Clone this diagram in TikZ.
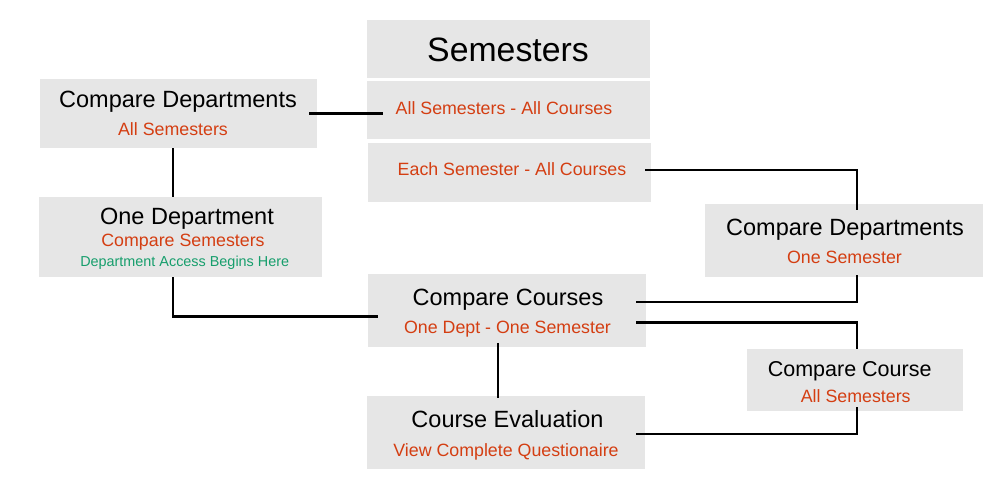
\documentclass[tikz,border=0pt]{standalone}
\usepackage{fontspec}
\setmainfont{Liberation Sans}
\usetikzlibrary{calc}
\definecolor{boxgray}{RGB}{230,230,230}
\definecolor{subred}{RGB}{212,62,18}
\definecolor{notegreen}{RGB}{22,158,108}

\begin{document}
\begin{tikzpicture}[
            x = 1pt, y = -1pt,
            box/.style={fill=boxgray, inner sep=0pt, outer sep=0pt},
            title/.style={anchor=base, inner sep=0pt, font=\fontsize{23.5}{26}\selectfont},
            sub/.style={anchor=base, inner sep=0pt, text=subred, font=\fontsize{17.8}{20}\selectfont},
            note/.style={anchor=base, inner sep=0pt, text=notegreen, font=\fontsize{14.4}{16}\selectfont},
            line/.style={line width = 2.2pt},
            ]
        \useasboundingbox (0,0) rectangle (1000,500);
        % boxes
        \node[box, minimum width=283pt, minimum height=58pt] (sem) at (508.5,49) {};
        \node[box, minimum width=283pt, minimum height=58pt] (allall) at (508.5,110) {};
        \node[box, minimum width=283pt, minimum height=59pt] (eachall) at (509.5,172.5) {};
        \node[box, minimum width=277pt, minimum height=69pt] (cdall) at (178.5,113.5) {};
        \node[box, minimum width=283pt, minimum height=80pt] (onedept) at (180.5,237) {};
        \node[box, minimum width=278pt, minimum height=73pt] (cdone) at (844,240.5) {};
        \node[box, minimum width=278pt, minimum height=72.5pt] (courses) at (507,310.5) {};
        \node[box, minimum width=216pt, minimum height=62pt] (course) at (855,380) {};
        \node[box, minimum width=278pt, minimum height=73pt] (eval) at (506,432.5) {};
        % texts
        \node[title, font=\fontsize{33.8}{36}\selectfont] (semT) at (508,62) {Semesters};
        \node[sub] (allallS) at (504,114) {All Semesters - All Courses};
        \node[sub] (eachallS) at (512,175) {Each Semester - All Courses};
        \node[title] (cdallT) at (178,108) {Compare Departments};
        \node[sub] (cdallS) at (173,135.7) {All Semesters};
        \node[title] (onedeptT) at (187,224.3) {One Department};
        \node[sub] (onedeptS) at (183,246) {Compare Semesters};
        \node[note] (onedeptN) at (184.7,266) {Department Access Begins Here};
        \node[title] (cdoneT) at (845,235.7) {Compare Departments};
        \node[sub] (cdoneS) at (844.5,263.3) {One Semester};
        \node[title] (coursesT) at (508,305.7) {Compare Courses};
        \node[sub] (coursesS) at (507.5,333.3) {One Dept - One Semester};
        \node[title, font=\fontsize{21.5}{24}\selectfont] (courseT) at (849.7,376.7) {Compare Course};
        \node[sub] (courseS) at (855.7,402.7) {All Semesters};
        \node[title] (evalT) at (507.5,427.7) {Course Evaluation};
        \node[sub] (evalS) at (506,456) {View Complete Questionaire};
        % connectors
        \draw[line] ($(cdall.east)+(-8,0)$) -- ($(cdall.east -| allall.west)+(16,0)$);
        \draw[line] ($(cdall.south)+(-5.5,0)$) -- ($(onedept.north)+(-7.5,0)$);
        \draw[line] ($(onedept.south)+(-7.5,0)$) |- ($(courses.west)+(10,6)$);
        \draw[line] ($(eachall.east)+(-6,-2.5)$) -| ($(cdone.north)+(13,6)$);
        \draw[line] ($(cdone.south)+(13,-2)$) |- ($(courses.east)+(-10,-8.5)$);
        \draw[line] ($(courses.east)+(-10,12)$) -| ($(course.north)+(2,0)$);
        \draw[line] ($(course.south)+(2,-4)$) |- ($(eval.east)+(-9,1.5)$);
        \draw[line] ($(courses.south)+(-9,-4)$) -- ($(eval.north)+(-8,2)$);
    \end{tikzpicture}
\end{document}
